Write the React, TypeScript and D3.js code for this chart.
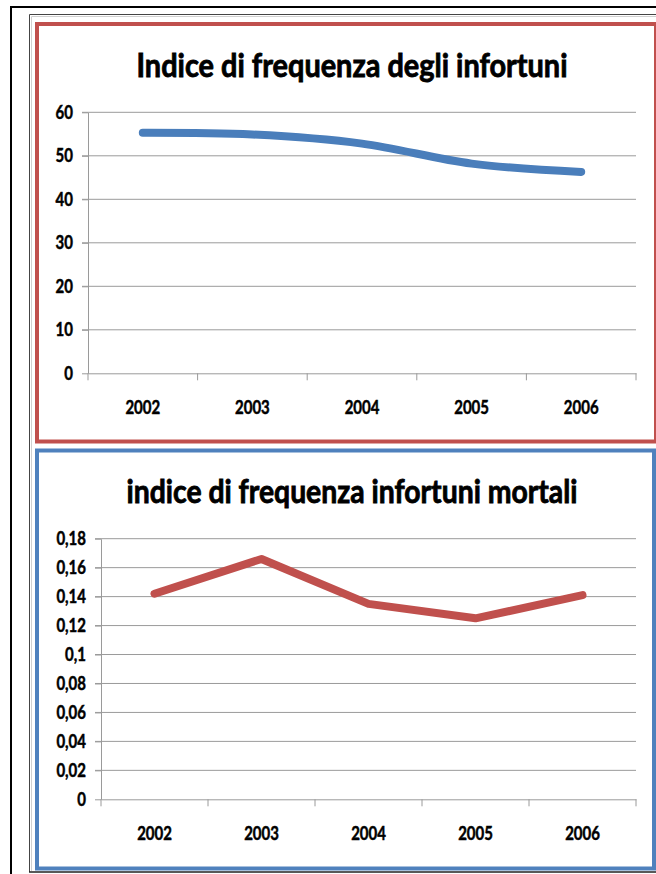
import React from 'react';
import * as d3 from 'd3';

const years = ['2002', '2003', '2004', '2005', '2006'];

const infortuni = [55.3, 54.9, 52.8, 48.2, 46.3];
const mortali = [0.142, 0.166, 0.135, 0.125, 0.141];

const ticksInfortuni = [0, 10, 20, 30, 40, 50, 60];
const ticksMortali = [0, 0.02, 0.04, 0.06, 0.08, 0.1, 0.12, 0.14, 0.16, 0.18];

const titleInfortuni = 'Indice di frequenza degli infortuni';
const titleMortali = 'indice di frequenza infortuni mortali';

const itFormat = d3.formatLocale({
    decimal: ',',
    thousands: '.',
    grouping: [3],
    currency: ['', ' €']
}).format('.2~f');

const FONT = 'Lato, "Open Sans", sans-serif';
const STRETCH = 1.2; // text in the original looks vertically stretched
const GRID = '#9a9a9a';

type Box = { left: number; right: number; top: number; bottom: number };

type PanelProps = {
    plot: Box;
    title: string;
    titleX: number;
    titleY: number;
    titleWidth: number;
    values: number[];
    ticks: number[];
    color: string;
    curve: d3.CurveFactory;
};

function Panel({ plot, title, titleX, titleY, titleWidth, values, ticks, color, curve }: PanelProps) {

    const container = React.useRef<SVGGElement>(null);

    React.useEffect(() => {
        if (!container.current) return;

        const g = d3.select(container.current);
        g.selectAll('*').remove();

        const x = d3.scaleBand().domain(years).range([plot.left, plot.right]).padding(0);
        const y = d3.scaleLinear().domain([0, d3.max(ticks) as number]).range([plot.bottom, plot.top]);

        // horizontal gridlines (start at the outer tick like excel does)
        g.append('g')
            .selectAll('line')
            .data(ticks.filter(t => t > 0))
            .join('line')
            .attr('x1', plot.left - 6)
            .attr('x2', plot.right)
            .attr('y1', d => y(d))
            .attr('y2', d => y(d))
            .attr('stroke', GRID)
            .attr('stroke-width', 1);

        // y axis
        const yAxis = d3.axisLeft(y)
            .tickValues(ticks)
            .tickSize(6)
            .tickSizeOuter(0)
            .tickPadding(9)
            .tickFormat(d => itFormat(d as number));

        const ya = g.append('g')
            .attr('transform', `translate(${plot.left},0)`)
            .call(yAxis);
        ya.select('.domain').attr('stroke', GRID);
        ya.selectAll('.tick line').attr('stroke', GRID);
        ya.selectAll('.tick text')
            .attr('dy', 0)
            .attr('transform', `translate(0,6) scale(1,${STRETCH})`)
            .attr('fill', '#000')
            .attr('stroke', '#000')
            .attr('stroke-width', 0.4)
            .style('font-family', FONT)
            .style('font-weight', 700)
            .style('font-size', '15px');

        // x axis: labels centred, ticks on category boundaries
        const xAxis = d3.axisBottom(x).tickSize(0).tickSizeOuter(0);
        const xa = g.append('g')
            .attr('transform', `translate(0,${plot.bottom})`)
            .call(xAxis);
        xa.select('.domain').attr('stroke', GRID);
        xa.selectAll('.tick text')
            .attr('y', 0)
            .attr('dy', 0)
            .attr('transform', `translate(0,41) scale(1,${STRETCH})`)
            .attr('fill', '#000')
            .attr('stroke', '#000')
            .attr('stroke-width', 0.4)
            .style('font-family', FONT)
            .style('font-weight', 700)
            .style('font-size', '15px');

        const bounds = years.map(d => x(d) as number).concat([plot.right]);
        g.append('g')
            .selectAll('line')
            .data(bounds)
            .join('line')
            .attr('x1', d => d)
            .attr('x2', d => d)
            .attr('y1', plot.bottom)
            .attr('y2', plot.bottom + 7)
            .attr('stroke', GRID);

        // series
        const line = d3.line<number>()
            .x((d, i) => (x(years[i]) as number) + x.bandwidth() / 2)
            .y(d => y(d))
            .curve(curve);

        g.append('path')
            .datum(values)
            .attr('d', line)
            .attr('fill', 'none')
            .attr('stroke', color)
            .attr('stroke-width', 8)
            .attr('stroke-linecap', 'round')
            .attr('stroke-linejoin', 'round');

    }, [plot, values, ticks]);

    return <g>
        <g ref={container} />
        <g transform={`translate(${titleX},${titleY}) scale(1,${STRETCH})`}>
            <text
                textAnchor="middle"
                textLength={titleWidth}
                lengthAdjust="spacingAndGlyphs"
                style={{ fontFamily: FONT, fontWeight: 700, fontSize: 27 }}
                fill="#000"
                stroke="#000"
                strokeWidth={0.7}
            >{title}</text>
        </g>
    </g>
}

const plotTop: Box = { left: 88, right: 636, top: 112.3, bottom: 373.3 };
const plotBottom: Box = { left: 101, right: 636, top: 538.7, bottom: 799.3 };

export default function App() {
    return <svg
        width={656}
        height={874}
        style={{ position: 'absolute', left: 0, top: 0, background: '#fff' }}
    >
        <rect x={0} y={0} width={656} height={874} fill="#fff" />

        {/* outer page frame */}
        <line x1={11} x2={11} y1={6} y2={874} stroke="#000" strokeWidth={2} />
        <line x1={10} x2={656} y1={7} y2={7} stroke="#000" strokeWidth={2} />
        <path d="M29.5,872 V14.5 H656" fill="none" stroke="#444" strokeWidth={1} />
        <path d="M31.5,871 V16.5 H656" fill="none" stroke="#d0d0d0" strokeWidth={1} />
        <line x1={29} x2={656} y1={872} y2={872} stroke="#222" strokeWidth={1.5} />

        {/* chart borders */}
        <rect x={37} y={24} width={619} height={417.5} fill="#fff" stroke="#C0504D" strokeWidth={4} />
        <rect x={37} y={450.5} width={617} height={418} fill="#fff" stroke="#4F81BD" strokeWidth={4} />

        <Panel
            plot={plotTop}
            title={titleInfortuni}
            titleX={352}
            titleY={77}
            titleWidth={431}
            values={infortuni}
            ticks={ticksInfortuni}
            color="#4A7EBB"
            curve={d3.curveCatmullRom.alpha(0)}
        />
        <Panel
            plot={plotBottom}
            title={titleMortali}
            titleX={352}
            titleY={503}
            titleWidth={451}
            values={mortali}
            ticks={ticksMortali}
            color="#C0504D"
            curve={d3.curveLinear}
        />
    </svg>
}
